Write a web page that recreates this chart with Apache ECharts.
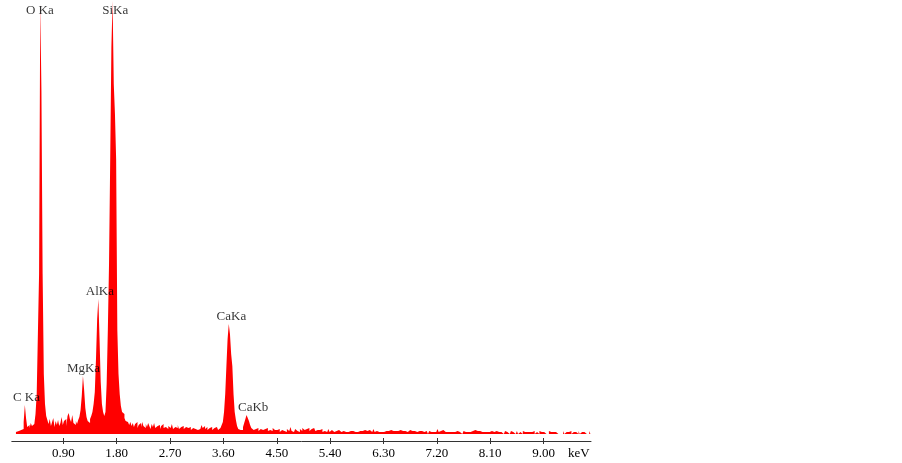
<!DOCTYPE html>
<html>
<head>
<meta charset="utf-8">
<script src="https://cdn.jsdelivr.net/npm/echarts@6/dist/echarts.min.js"></script>
<style>
html,body{margin:0;padding:0;background:#fff;}
#chart{width:902px;height:463px;}
</style>
</head>
<body>
<div id="chart"></div>
<script>
// Channel grid of the EDS spectrum (keV)
const E_START = 0.10;
const E_STEP = 0.02;
// Counts per channel, in 0.5 keV blocks
const counts_010_048 = [2,4,3,5,4,6,5,12,29,16,7,9,6,11,8,10,12,20,40,100];
const counts_050_098 = [160,430,342,160,60,30,18,14,10,15,8,12,16,7,13,9,14,8,11,17,9,13,15,8,18];
const counts_100_148 = [21,15,12,19,11,9,13,10,14,17,24,38,58,44,26,17,13,11,15,18,22,30,42,75,115];
const counts_150_198 = [135,95,52,30,22,18,22,50,104,170,275,387,433,350,320,275,104,60,40,28,22,20,16,13,12];
const counts_200_248 = [13,9,12,8,11,7,10,12,6,9,11,7,12,8,6,10,7,11,8,5,10,7,11,6,8];
const counts_250_298 = [7,9,5,8,10,6,7,9,5,8,6,7,10,5,7,8,6,9,5,7,6,8,5,7,6];
const counts_300_348 = [6,5,7,4,6,8,5,7,4,6,5,7,9,6,8,5,7,4,6,5,7,4,6,5,7];
const counts_350_398 = [5,4,6,7,9,12,22,40,68,95,110,100,80,68,40,22,14,8,5,4,5,4,7,11,15];
const counts_400_448 = [19,16,13,9,6,4,3,5,4,6,3,5,7,4,3,5,4,6,3,4,5,3,6,4,3];
const counts_450_498 = [4,3,5,2,4,6,3,4,2,5,3,4,7,3,2,4,5,3,4,2,5,3,6,4,3];
const counts_500_548 = [5,4,6,3,5,4,6,5,3,4,2,4,3,5,2,3,4,2,3,5,2,4,3,2,4];
const counts_550_598 = [3,2,4,3,2,4,3,5,2,3,2,4,3,2,3,4,2,3,2,4,3,2,3,2,4];
const counts_600_648 = [2,3,2,4,3,2,3,5,2,3,4,2,3,2,3,2,4,3,2,3,2,4,2,3,2];
const counts_650_698 = [3,2,3,2,4,2,3,2,3,2,2,3,4,2,3,2,3,2,2,4,3,2,3,2,2];
const counts_700_748 = [2,3,2,0,3,2,4,2,3,2,3,5,2,3,2,4,3,2,3,2,3,2,4,2,3];
const counts_750_798 = [2,0,3,2,2,3,0,2,3,2,4,2,3,2,2,3,2,4,2,3,2,3,2,2,3];
const counts_800_848 = [2,3,2,4,2,0,3,2,2,0,3,2,2,3,2,2,0,2,3,2,2,0,2,3,2];
const counts_850_898 = [2,0,2,3,0,2,2,0,3,2,0,2,3,2,0,2,2,3,0,2,2,0,3,2,0];
const counts_900_948 = [2,3,0,2,0,3,2,0,2,0,2,3,0,2,0,2,0,3,0,2,0,2,0,3,0];
const counts_950_980 = [2,0,2,0,0,3,0,2,0,2,0,0,2,0,3,0];

// Axis ticks
const tickValues = [0.90,1.80,2.70,3.60,4.50,5.40,6.30,7.20,8.10,9.00];
const axisUnit = 'keV';
const xMin = 0.03, xMax = 9.80;

// Peak identifications
const peakNames = ['C Ka','O Ka','MgKa','AlKa','SiKa','CaKa','CaKb'];
const peakEnergies = [0.26,0.52,1.24,1.50,1.74,3.70,4.00];

const counts = [].concat(counts_010_048,counts_050_098,counts_100_148,counts_150_198,
  counts_200_248,counts_250_298,counts_300_348,counts_350_398,counts_400_448,counts_450_498,
  counts_500_548,counts_550_598,counts_600_648,counts_650_698,counts_700_748,counts_750_798,
  counts_800_848,counts_850_898,counts_900_948,counts_950_980);

const spectrum = counts.map((c,i)=>[+(E_START + i*E_STEP).toFixed(2), c]);
const countAt = e => counts[Math.round((e - E_START)/E_STEP)];

const labelTweaks = {
  'C Ka': {offset:[1,0]},
  'O Ka': {position:'bottom', distance:0, offset:[-1,0]},
  'MgKa': {offset:[0,0]},
  'AlKa': {offset:[1,0]},
  'SiKa': {position:'bottom', distance:3, offset:[2,0]},
  'CaKa': {offset:[2,0]},
  'CaKb': {offset:[6,0]}
};

const font = 'Liberation Serif, Times New Roman, serif';
const axisColor = '#333';

const chart = echarts.init(document.getElementById('chart'), null, {renderer:'canvas'});
const baseX = {
  type:'value', min:xMin, max:xMax, gridIndex:0,
  splitLine:{show:false}
};
chart.setOption({
  animation:false,
  backgroundColor:'#ffffff',
  grid:{left:11.8, right:311, top:0, bottom:22, containLabel:false},
  xAxis:[
    Object.assign({}, baseX, {
      position:'bottom',
      axisLine:{show:true, onZero:false, lineStyle:{color:axisColor, width:1}},
      axisTick:{show:true, inside:false, length:3, customValues:tickValues, lineStyle:{color:axisColor}},
      axisLabel:{show:true, customValues:tickValues, margin:6, color:'#000',
        fontFamily:font, fontSize:13, formatter:v=>v.toFixed(2)},
      name:axisUnit, nameLocation:'end', nameGap:-23,
      nameTextStyle:{fontFamily:font, fontSize:13, color:'#000', align:'left', verticalAlign:'top', padding:[6,0,0,0]}
    }),
    Object.assign({}, baseX, {
      position:'bottom',
      axisLine:{show:false, onZero:false},
      axisTick:{show:true, inside:true, length:3, customValues:tickValues, lineStyle:{color:axisColor}},
      axisLabel:{show:false}
    })
  ],
  yAxis:{type:'value', min:-7, max:434, show:false},
  series:[
    {
      type:'line', xAxisIndex:0, data:spectrum, step:'middle', showSymbol:false, z:2,
      lineStyle:{width:0, color:'#ff0000'},
      areaStyle:{color:'#ff0000', opacity:1, origin:0},
      itemStyle:{color:'#ff0000'},
      silent:true
    },
    {
      type:'scatter', xAxisIndex:0, symbolSize:0, silent:true, z:10,
      data:peakNames.map((n,i)=>{
        const t = labelTweaks[n] || {};
        return {
          value:[peakEnergies[i], countAt(peakEnergies[i])],
          name:n,
          label:{show:true, formatter:n, position:t.position||'top', distance:(t.distance!==undefined?t.distance:1),
            offset:t.offset||[0,0], color:'#000', fontFamily:font, fontSize:13}
        };
      })
    }
  ]
});
</script>
</body>
</html>
